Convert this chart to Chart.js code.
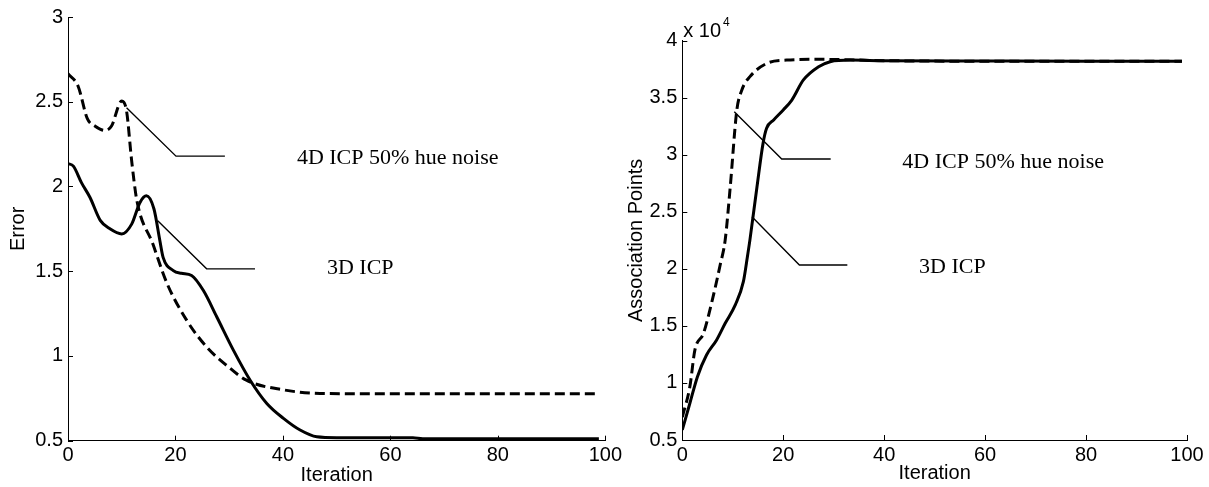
<!DOCTYPE html>
<html>
<head>
<meta charset="utf-8">
<script src="https://cdn.jsdelivr.net/npm/chart.js@4.4.0/dist/chart.umd.min.js"></script>
<style>
  html, body { margin: 0; padding: 0; background: #fff; }
  #wrap { position: relative; width: 1209px; height: 487px; overflow: hidden; }
  #left { position: absolute; left: 0; top: 0; }
  #right { position: absolute; left: 600px; top: 0; }
</style>
</head>
<body>
<div id="wrap">
  <canvas id="left" width="625" height="487"></canvas>
  <canvas id="right" width="609" height="487"></canvas>
</div>
<script>
// ---- data ----
const iterRange = [0, 100];
const errRange = [0.5, 3];
const assocRange = [5000, 40000];

// Error vs iteration
const iterErr4D = [0, 1.9, 3.6, 5.0, 6.9, 8.1, 10.0, 10.9, 11.85, 12.8, 15.8, 18.4, 22.1, 25.8, 29.5, 33.2, 40.1, 46.9, 60, 80, 98.8];
const err4D = [2.665, 2.59, 2.40, 2.357, 2.33, 2.357, 2.504, 2.445, 2.151, 1.92, 1.66, 1.43, 1.21, 1.053, 0.945, 0.857, 0.80, 0.779, 0.777, 0.777, 0.777];
const iterErr3D = [0, 1.0, 2.5, 4.1, 6.0, 7.8, 10.0, 11.85, 13.4, 14.6, 16.0, 17.1, 17.7, 19.6, 21.1, 23.0, 25.2, 27.7, 30.8, 33.9, 37.0, 40.1, 43.2, 46.3, 50, 64.2, 66, 80, 98.8];
const err3D = [2.135, 2.12, 2.023, 1.935, 1.80, 1.75, 1.72, 1.778, 1.906, 1.945, 1.867, 1.68, 1.582, 1.504, 1.488, 1.475, 1.386, 1.23, 1.033, 0.857, 0.72, 0.632, 0.563, 0.523, 0.518, 0.518, 0.512, 0.511, 0.511];

// Association points vs iteration
const iterAssoc4D = [0, 1.5, 2.5, 4.2, 5.8, 7.5, 8.5, 9.5, 10.8, 11.8, 13.4, 16.7, 20.7, 26.7, 40, 60, 80, 99];
const assoc4D = [7000, 9680, 12900, 14350, 17000, 20340, 22540, 27200, 33900, 35680, 36850, 38000, 38300, 38370, 38250, 38200, 38200, 38200];
const iterAssoc3D = [0, 1.5, 3.0, 4.8, 6.8, 8.5, 10.5, 12.1, 12.9, 13.4, 14.8, 16.0, 16.7, 18.1, 20.0, 21.7, 24.0, 27.0, 29.3, 33.3, 40, 60, 80, 99];
const assoc3D = [5880, 8220, 10550, 12450, 13770, 15230, 16840, 18880, 21070, 22540, 27200, 31000, 32320, 33050, 33930, 34800, 36560, 37720, 38160, 38300, 38250, 38220, 38200, 38200];

// callout leader lines (data coordinates) and their labels
const errLeader4D = { x: [10.9, 20.1, 29.2], y: [2.465, 2.179, 2.179] };
const errLeader3D = { x: [16.7, 25.8, 34.8], y: [1.798, 1.514, 1.514] };
const assocLeader4D = { x: [10.3, 19.7, 29.4], y: [33780, 29630, 29630] };
const assocLeader3D = { x: [13.8, 23.2, 32.7], y: [24570, 20340, 20340] };
const label4D = '4D ICP 50% hue noise';
const label3D = '3D ICP';

const pts = (xs, ys) => xs.map((x, i) => ({ x: x, y: ys[i] }));

// matlab style tick marks pointing into the plot
const inwardTicks = {
  id: 'inwardTicks',
  afterDraw(chart) {
    const { ctx, chartArea, scales } = chart;
    ctx.save();
    ctx.strokeStyle = '#000';
    ctx.lineWidth = 1;
    scales.x.ticks.forEach(t => {
      const px = Math.round(scales.x.getPixelForValue(t.value)) + 0.5;
      ctx.beginPath();
      ctx.moveTo(px, chartArea.bottom);
      ctx.lineTo(px, chartArea.bottom - 5);
      ctx.stroke();
    });
    scales.y.ticks.forEach(t => {
      const py = Math.round(scales.y.getPixelForValue(t.value)) + 0.5;
      ctx.beginPath();
      ctx.moveTo(chartArea.left, py);
      ctx.lineTo(chartArea.left + 5, py);
      ctx.stroke();
    });
    ctx.restore();
  }
};

// text next to the leader lines, plus the exponent note
const callouts = {
  id: 'callouts',
  afterDraw(chart, args, opts) {
    const { ctx, scales, chartArea } = chart;
    ctx.save();
    ctx.fillStyle = '#000';
    ctx.textBaseline = 'middle';
    ctx.textAlign = 'left';
    ctx.font = '22px "Liberation Serif", "Times New Roman", serif';
    (opts.items || []).forEach(it => {
      ctx.fillText(it.text, scales.x.getPixelForValue(it.x), scales.y.getPixelForValue(it.y));
    });
    if (opts.exponent) {
      ctx.font = '20px "Liberation Sans", Arial, sans-serif';
      ctx.textBaseline = 'alphabetic';
      ctx.fillText('x 10', chartArea.left + 1, chartArea.top - 4);
      const w = ctx.measureText('x 10').width;
      ctx.font = '12px "Liberation Sans", Arial, sans-serif';
      ctx.fillText(opts.exponent, chartArea.left + 3 + w, chartArea.top - 15);
    }
    ctx.restore();
  }
};

const sansFont = { family: '"Liberation Sans", Arial, sans-serif', size: 20 };

function curve(data, dashed) {
  return {
    data: data,
    borderColor: '#000',
    borderWidth: 3,
    borderDash: dashed ? [10, 5] : [],
    pointRadius: 0,
    cubicInterpolationMode: 'monotone',
    fill: false,
  };
}

function leader(l) {
  return {
    data: pts(l.x, l.y),
    borderColor: '#000',
    borderWidth: 1.4,
    pointRadius: 0,
    tension: 0,
    fill: false,
  };
}

function axes(yRange, yTitle, yWidth, xHeight, yTitlePad, xTitlePad, yFmt) {
  return {
    x: {
      type: 'linear',
      min: iterRange[0],
      max: iterRange[1],
      ticks: { stepSize: 20, color: '#000', font: sansFont, padding: 3, maxRotation: 0 },
      grid: { display: false, drawTicks: false },
      border: { display: true, color: '#000', width: 1 },
      title: { display: true, text: 'Iteration', color: '#000', font: sansFont, padding: { top: 0, bottom: xTitlePad } },
      afterFit: s => { s.height = xHeight; },
    },
    y: {
      type: 'linear',
      min: yRange[0],
      max: yRange[1],
      ticks: { stepSize: (yRange[1] - yRange[0]) / (yRange[1] > 100 ? 7 : 5), color: '#000', font: sansFont, padding: 5, callback: yFmt },
      grid: { display: false, drawTicks: false },
      border: { display: true, color: '#000', width: 1 },
      title: { display: true, text: yTitle, color: '#000', font: sansFont, padding: { top: yTitlePad, bottom: 0 } },
      afterFit: s => { s.width = yWidth; },
    },
  };
}

new Chart(document.getElementById('left'), {
  type: 'line',
  data: {
    datasets: [
      curve(pts(iterErr4D, err4D), true),
      curve(pts(iterErr3D, err3D), false),
      leader(errLeader4D),
      leader(errLeader3D),
    ],
  },
  options: {
    responsive: false,
    animation: false,
    layout: { padding: { top: 15.7, right: 19.5, left: 0, bottom: 0 } },
    plugins: {
      legend: { display: false },
      tooltip: { enabled: false },
      callouts: {
        items: [
          { text: label4D, x: 42.6, y: 2.169 },
          { text: label3D, x: 48.2, y: 1.516 },
        ],
      },
    },
    scales: axes(errRange, 'Error', 68, 46.3, 6, 0, v => v),
  },
  plugins: [inwardTicks, callouts],
});

new Chart(document.getElementById('right'), {
  type: 'line',
  data: {
    datasets: [
      curve(pts(iterAssoc4D, assoc4D), true),
      curve(pts(iterAssoc3D, assoc3D), false),
      leader(assocLeader4D),
      leader(assocLeader3D),
    ],
  },
  options: {
    responsive: false,
    animation: false,
    layout: { padding: { top: 40.7, right: 22, left: 0, bottom: 0 } },
    plugins: {
      legend: { display: false },
      tooltip: { enabled: false },
      callouts: {
        items: [
          { text: label4D, x: 43.6, y: 29370 },
          { text: label3D, x: 46.9, y: 20170 },
        ],
        exponent: '4',
      },
    },
    scales: axes(assocRange, 'Association Points', 82.3, 47, 24, 1.7, v => v / 10000),
  },
  plugins: [inwardTicks, callouts],
});
</script>
</body>
</html>
